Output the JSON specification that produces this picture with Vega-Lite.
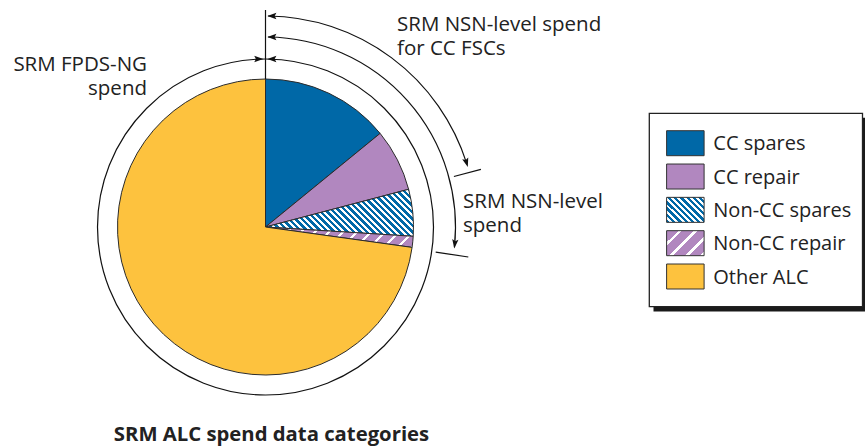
{
  "$schema": "https://vega.github.io/schema/vega-lite/v6.json",
  "width": 865,
  "height": 447,
  "padding": 0,
  "autosize": "none",
  "background": "white",
  "config": {"view": {"stroke": null}, "font": "Open Sans"},
  "datasets": {
    "spend": [
      {"cat": "CC spares", "value": 14.1, "ord": 1},
      {"cat": "CC repair", "value": 6.8, "ord": 2},
      {"cat": "Non-CC spares", "value": 5.1, "ord": 3},
      {"cat": "Non-CC repair", "value": 1.2, "ord": 4},
      {"cat": "Other ALC", "value": 72.8, "ord": 5}
    ],
    "spans": [
      {"span": "SRM FPDS-NG spend", "t1": 0, "t2": 100},
      {"span": "SRM NSN-level spend", "t1": 0.21, "t2": 26.7},
      {"span": "SRM NSN-level spend for CC FSCs", "t1": 0.19, "t2": 20.15}
    ],
    "rules": [
      {"x": 0, "y": 148, "x2": 0, "y2": 217},
      {"x": 188.4, "y": 50.5, "x2": 215.4, "y2": 57.7},
      {"x": 170.2, "y": -25.1, "x2": 202.8, "y2": -30.0}
    ],
    "arrows": [
      {"x": 1.8, "y": 211, "angle": 180},
      {"x": 1.8, "y": 190, "angle": 180},
      {"x": 1.8, "y": 168, "angle": 180},
      {"x": -2.2, "y": 168, "angle": 0},
      {"x": 202.3, "y": 59.9, "angle": 73.5},
      {"x": 188.8, "y": -21.5, "angle": 96.5}
    ],
    "leftLabels": [
      {"x": 131.5, "y": 196.5, "text": ["SRM NSN-level spend", "for CC FSCs"]},
      {"x": 197.5, "y": 19, "text": ["SRM NSN-level", "spend"]}
    ],
    "rightLabels": [
      {"x": -118.5, "y": 156, "text": ["SRM FPDS-NG", "spend"]}
    ],
    "titles": [
      {"x": 6, "y": -214, "text": "SRM ALC spend data categories"}
    ]
  },
  "resolve": {"scale": {"y": "independent"}},
  "layer": [
    {
      "data": {"values": [{}]},
      "mark": {"type": "rect", "color": "#1a1a1a"},
      "encoding": {
        "x": {"datum": 388, "type": "quantitative", "scale": {"domain": [-265.5, 599.5], "nice": false, "zero": false}, "axis": null},
        "x2": {"datum": 601.5},
        "y": {"datum": 109.2, "type": "quantitative", "scale": {"domain": [-220, 227], "nice": false, "zero": false}, "axis": null},
        "y2": {"datum": -84.5}
      }
    },
    {
      "data": {"values": [{}]},
      "mark": {"type": "rect", "fill": "white", "stroke": "#222", "strokeWidth": 1.3},
      "encoding": {
        "x": {"datum": 383.8, "type": "quantitative", "scale": {"domain": [-265.5, 599.5], "nice": false, "zero": false}, "axis": null},
        "x2": {"datum": 597},
        "y": {"datum": 113.7, "type": "quantitative", "scale": {"domain": [-220, 227], "nice": false, "zero": false}, "axis": null},
        "y2": {"datum": -79.7}
      }
    },
    {
      "data": {"name": "spans"},
      "transform": [{"filter": "datum.t2 == 100"}],
      "mark": {"type": "arc", "radius": 168, "radius2": 168, "fill": "white", "fillOpacity": 0, "stroke": "#111", "strokeWidth": 1.2},
      "encoding": {
        "x": {"datum": 0, "type": "quantitative", "scale": {"domain": [-265.5, 599.5], "nice": false, "zero": false}, "axis": null},
        "y": {"datum": 0, "type": "quantitative", "scale": {"domain": [-220, 227], "nice": false, "zero": false}, "axis": null},
        "theta": {"field": "t1", "type": "quantitative", "stack": null, "scale": {"domain": [0, 100]}},
        "theta2": {"field": "t2"}
      }
    },
    {
      "data": {"name": "spans"},
      "transform": [{"filter": "datum.t2 < 25"}],
      "mark": {"type": "arc", "radius": 211, "radius2": 211, "fill": "white", "fillOpacity": 0, "stroke": "#111", "strokeWidth": 1.2},
      "encoding": {
        "x": {"datum": 0, "type": "quantitative", "scale": {"domain": [-265.5, 599.5], "nice": false, "zero": false}, "axis": null},
        "y": {"datum": 0, "type": "quantitative", "scale": {"domain": [-220, 227], "nice": false, "zero": false}, "axis": null},
        "theta": {"field": "t1", "type": "quantitative", "stack": null, "scale": {"domain": [0, 100]}},
        "theta2": {"field": "t2"}
      }
    },
    {
      "data": {"name": "spans"},
      "transform": [{"filter": "datum.t2 > 25 && datum.t2 < 50"}],
      "mark": {"type": "arc", "radius": 190, "radius2": 190, "fill": "white", "fillOpacity": 0, "stroke": "#111", "strokeWidth": 1.2},
      "encoding": {
        "x": {"datum": 0, "type": "quantitative", "scale": {"domain": [-265.5, 599.5], "nice": false, "zero": false}, "axis": null},
        "y": {"datum": 0, "type": "quantitative", "scale": {"domain": [-220, 227], "nice": false, "zero": false}, "axis": null},
        "theta": {"field": "t1", "type": "quantitative", "stack": null, "scale": {"domain": [0, 100]}},
        "theta2": {"field": "t2"}
      }
    },
    {
      "data": {"name": "spend"},
      "mark": {"type": "arc", "radius": 148, "stroke": "#2b2b2b", "strokeWidth": 1},
      "encoding": {
        "x": {"datum": 0, "type": "quantitative", "scale": {"domain": [-265.5, 599.5], "nice": false, "zero": false}, "axis": null},
        "y": {"datum": 0, "type": "quantitative", "scale": {"domain": [-220, 227], "nice": false, "zero": false}, "axis": null},
        "theta": {"field": "value", "type": "quantitative", "stack": true, "scale": {"domain": [0, 100]}},
        "order": {"field": "ord", "type": "quantitative"},
        "fill": {
          "field": "cat",
          "type": "nominal",
          "scale": {
            "domain": ["CC spares", "CC repair", "Non-CC spares", "Non-CC repair", "Other ALC"],
            "range": ["#0068A7", "#B187BF", "#0068A7", "#B187BF", "#FDC23E"]
          },
          "legend": null,
          "condition": [
            {"test": "datum.cat === 'Non-CC spares'", "value": {"gradient": "linear", "x1": 0, "y1": 1, "x2": 1.197, "y2": 0.62, "stops": [
              {"offset": 0, "color": "#0068A7"}, {"offset": 0.0183, "color": "#0068A7"}, {"offset": 0.0183, "color": "#ffffff"}, {"offset": 0.0333, "color": "#ffffff"},
              {"offset": 0.0333, "color": "#0068A7"}, {"offset": 0.0517, "color": "#0068A7"}, {"offset": 0.0517, "color": "#ffffff"}, {"offset": 0.0667, "color": "#ffffff"},
              {"offset": 0.0667, "color": "#0068A7"}, {"offset": 0.085, "color": "#0068A7"}, {"offset": 0.085, "color": "#ffffff"}, {"offset": 0.1, "color": "#ffffff"},
              {"offset": 0.1, "color": "#0068A7"}, {"offset": 0.1183, "color": "#0068A7"}, {"offset": 0.1183, "color": "#ffffff"}, {"offset": 0.1333, "color": "#ffffff"},
              {"offset": 0.1333, "color": "#0068A7"}, {"offset": 0.1517, "color": "#0068A7"}, {"offset": 0.1517, "color": "#ffffff"}, {"offset": 0.1667, "color": "#ffffff"},
              {"offset": 0.1667, "color": "#0068A7"}, {"offset": 0.185, "color": "#0068A7"}, {"offset": 0.185, "color": "#ffffff"}, {"offset": 0.2, "color": "#ffffff"},
              {"offset": 0.2, "color": "#0068A7"}, {"offset": 0.2183, "color": "#0068A7"}, {"offset": 0.2183, "color": "#ffffff"}, {"offset": 0.2333, "color": "#ffffff"},
              {"offset": 0.2333, "color": "#0068A7"}, {"offset": 0.2517, "color": "#0068A7"}, {"offset": 0.2517, "color": "#ffffff"}, {"offset": 0.2667, "color": "#ffffff"},
              {"offset": 0.2667, "color": "#0068A7"}, {"offset": 0.285, "color": "#0068A7"}, {"offset": 0.285, "color": "#ffffff"}, {"offset": 0.3, "color": "#ffffff"},
              {"offset": 0.3, "color": "#0068A7"}, {"offset": 0.3183, "color": "#0068A7"}, {"offset": 0.3183, "color": "#ffffff"}, {"offset": 0.3333, "color": "#ffffff"},
              {"offset": 0.3333, "color": "#0068A7"}, {"offset": 0.3517, "color": "#0068A7"}, {"offset": 0.3517, "color": "#ffffff"}, {"offset": 0.3667, "color": "#ffffff"},
              {"offset": 0.3667, "color": "#0068A7"}, {"offset": 0.385, "color": "#0068A7"}, {"offset": 0.385, "color": "#ffffff"}, {"offset": 0.4, "color": "#ffffff"},
              {"offset": 0.4, "color": "#0068A7"}, {"offset": 0.4183, "color": "#0068A7"}, {"offset": 0.4183, "color": "#ffffff"}, {"offset": 0.4333, "color": "#ffffff"},
              {"offset": 0.4333, "color": "#0068A7"}, {"offset": 0.4517, "color": "#0068A7"}, {"offset": 0.4517, "color": "#ffffff"}, {"offset": 0.4667, "color": "#ffffff"},
              {"offset": 0.4667, "color": "#0068A7"}, {"offset": 0.485, "color": "#0068A7"}, {"offset": 0.485, "color": "#ffffff"}, {"offset": 0.5, "color": "#ffffff"},
              {"offset": 0.5, "color": "#0068A7"}, {"offset": 0.5183, "color": "#0068A7"}, {"offset": 0.5183, "color": "#ffffff"}, {"offset": 0.5333, "color": "#ffffff"},
              {"offset": 0.5333, "color": "#0068A7"}, {"offset": 0.5517, "color": "#0068A7"}, {"offset": 0.5517, "color": "#ffffff"}, {"offset": 0.5667, "color": "#ffffff"},
              {"offset": 0.5667, "color": "#0068A7"}, {"offset": 0.585, "color": "#0068A7"}, {"offset": 0.585, "color": "#ffffff"}, {"offset": 0.6, "color": "#ffffff"},
              {"offset": 0.6, "color": "#0068A7"}, {"offset": 0.6183, "color": "#0068A7"}, {"offset": 0.6183, "color": "#ffffff"}, {"offset": 0.6333, "color": "#ffffff"},
              {"offset": 0.6333, "color": "#0068A7"}, {"offset": 0.6517, "color": "#0068A7"}, {"offset": 0.6517, "color": "#ffffff"}, {"offset": 0.6667, "color": "#ffffff"},
              {"offset": 0.6667, "color": "#0068A7"}, {"offset": 0.685, "color": "#0068A7"}, {"offset": 0.685, "color": "#ffffff"}, {"offset": 0.7, "color": "#ffffff"},
              {"offset": 0.7, "color": "#0068A7"}, {"offset": 0.7183, "color": "#0068A7"}, {"offset": 0.7183, "color": "#ffffff"}, {"offset": 0.7333, "color": "#ffffff"},
              {"offset": 0.7333, "color": "#0068A7"}, {"offset": 0.7517, "color": "#0068A7"}, {"offset": 0.7517, "color": "#ffffff"}, {"offset": 0.7667, "color": "#ffffff"},
              {"offset": 0.7667, "color": "#0068A7"}, {"offset": 0.785, "color": "#0068A7"}, {"offset": 0.785, "color": "#ffffff"}, {"offset": 0.8, "color": "#ffffff"},
              {"offset": 0.8, "color": "#0068A7"}, {"offset": 0.8183, "color": "#0068A7"}, {"offset": 0.8183, "color": "#ffffff"}, {"offset": 0.8333, "color": "#ffffff"},
              {"offset": 0.8333, "color": "#0068A7"}, {"offset": 0.8517, "color": "#0068A7"}, {"offset": 0.8517, "color": "#ffffff"}, {"offset": 0.8667, "color": "#ffffff"},
              {"offset": 0.8667, "color": "#0068A7"}, {"offset": 0.885, "color": "#0068A7"}, {"offset": 0.885, "color": "#ffffff"}, {"offset": 0.9, "color": "#ffffff"},
              {"offset": 0.9, "color": "#0068A7"}, {"offset": 0.9183, "color": "#0068A7"}, {"offset": 0.9183, "color": "#ffffff"}, {"offset": 0.9333, "color": "#ffffff"},
              {"offset": 0.9333, "color": "#0068A7"}, {"offset": 0.9517, "color": "#0068A7"}, {"offset": 0.9517, "color": "#ffffff"}, {"offset": 0.9667, "color": "#ffffff"},
              {"offset": 0.9667, "color": "#0068A7"}, {"offset": 0.985, "color": "#0068A7"}, {"offset": 0.985, "color": "#ffffff"}, {"offset": 1, "color": "#ffffff"}
            ]}},
            {"test": "datum.cat === 'Non-CC repair'", "value": {"gradient": "linear", "x1": 0, "y1": 0, "x2": 1.116, "y2": 0.153, "stops": [
              {"offset": 0, "color": "#B187BF"}, {"offset": 0.0625, "color": "#B187BF"}, {"offset": 0.0625, "color": "#ffffff"}, {"offset": 0.0833, "color": "#ffffff"},
              {"offset": 0.0833, "color": "#B187BF"}, {"offset": 0.1458, "color": "#B187BF"}, {"offset": 0.1458, "color": "#ffffff"}, {"offset": 0.1667, "color": "#ffffff"},
              {"offset": 0.1667, "color": "#B187BF"}, {"offset": 0.2292, "color": "#B187BF"}, {"offset": 0.2292, "color": "#ffffff"}, {"offset": 0.25, "color": "#ffffff"},
              {"offset": 0.25, "color": "#B187BF"}, {"offset": 0.3125, "color": "#B187BF"}, {"offset": 0.3125, "color": "#ffffff"}, {"offset": 0.3333, "color": "#ffffff"},
              {"offset": 0.3333, "color": "#B187BF"}, {"offset": 0.3958, "color": "#B187BF"}, {"offset": 0.3958, "color": "#ffffff"}, {"offset": 0.4167, "color": "#ffffff"},
              {"offset": 0.4167, "color": "#B187BF"}, {"offset": 0.4792, "color": "#B187BF"}, {"offset": 0.4792, "color": "#ffffff"}, {"offset": 0.5, "color": "#ffffff"},
              {"offset": 0.5, "color": "#B187BF"}, {"offset": 0.5625, "color": "#B187BF"}, {"offset": 0.5625, "color": "#ffffff"}, {"offset": 0.5833, "color": "#ffffff"},
              {"offset": 0.5833, "color": "#B187BF"}, {"offset": 0.6458, "color": "#B187BF"}, {"offset": 0.6458, "color": "#ffffff"}, {"offset": 0.6667, "color": "#ffffff"},
              {"offset": 0.6667, "color": "#B187BF"}, {"offset": 0.7292, "color": "#B187BF"}, {"offset": 0.7292, "color": "#ffffff"}, {"offset": 0.75, "color": "#ffffff"},
              {"offset": 0.75, "color": "#B187BF"}, {"offset": 0.8125, "color": "#B187BF"}, {"offset": 0.8125, "color": "#ffffff"}, {"offset": 0.8333, "color": "#ffffff"},
              {"offset": 0.8333, "color": "#B187BF"}, {"offset": 0.8958, "color": "#B187BF"}, {"offset": 0.8958, "color": "#ffffff"}, {"offset": 0.9167, "color": "#ffffff"},
              {"offset": 0.9167, "color": "#B187BF"}, {"offset": 0.9792, "color": "#B187BF"}, {"offset": 0.9792, "color": "#ffffff"}, {"offset": 1, "color": "#ffffff"}
            ]}}
          ]
        }
      }
    },
    {
      "data": {"name": "spend"},
      "mark": {"type": "point", "shape": "M-1.5,-1H1.5V1H-1.5Z", "size": 625, "filled": true, "opacity": 1, "fillOpacity": 1, "stroke": "#333", "strokeWidth": 1},
      "encoding": {
        "x": {"datum": 419.85, "type": "quantitative", "scale": {"domain": [-265.5, 599.5], "nice": false, "zero": false}, "axis": null},
        "y": {"field": "ord", "type": "quantitative", "axis": null, "scale": {"domain": [-3.296, 10.115], "reverse": true, "nice": false, "zero": false}},
        "fill": {
          "field": "cat",
          "type": "nominal",
          "legend": null,
          "condition": [
            {"test": "datum.cat === 'Non-CC spares'", "value": {"gradient": "linear", "x1": 0, "y1": 1, "x2": 1.154, "y2": 0.23, "stops": [
              {"offset": 0, "color": "#0068A7"}, {"offset": 0.055, "color": "#0068A7"}, {"offset": 0.055, "color": "#ffffff"}, {"offset": 0.1, "color": "#ffffff"},
              {"offset": 0.1, "color": "#0068A7"}, {"offset": 0.155, "color": "#0068A7"}, {"offset": 0.155, "color": "#ffffff"}, {"offset": 0.2, "color": "#ffffff"},
              {"offset": 0.2, "color": "#0068A7"}, {"offset": 0.255, "color": "#0068A7"}, {"offset": 0.255, "color": "#ffffff"}, {"offset": 0.3, "color": "#ffffff"},
              {"offset": 0.3, "color": "#0068A7"}, {"offset": 0.355, "color": "#0068A7"}, {"offset": 0.355, "color": "#ffffff"}, {"offset": 0.4, "color": "#ffffff"},
              {"offset": 0.4, "color": "#0068A7"}, {"offset": 0.455, "color": "#0068A7"}, {"offset": 0.455, "color": "#ffffff"}, {"offset": 0.5, "color": "#ffffff"},
              {"offset": 0.5, "color": "#0068A7"}, {"offset": 0.555, "color": "#0068A7"}, {"offset": 0.555, "color": "#ffffff"}, {"offset": 0.6, "color": "#ffffff"},
              {"offset": 0.6, "color": "#0068A7"}, {"offset": 0.655, "color": "#0068A7"}, {"offset": 0.655, "color": "#ffffff"}, {"offset": 0.7, "color": "#ffffff"},
              {"offset": 0.7, "color": "#0068A7"}, {"offset": 0.755, "color": "#0068A7"}, {"offset": 0.755, "color": "#ffffff"}, {"offset": 0.8, "color": "#ffffff"},
              {"offset": 0.8, "color": "#0068A7"}, {"offset": 0.855, "color": "#0068A7"}, {"offset": 0.855, "color": "#ffffff"}, {"offset": 0.9, "color": "#ffffff"},
              {"offset": 0.9, "color": "#0068A7"}, {"offset": 0.955, "color": "#0068A7"}, {"offset": 0.955, "color": "#ffffff"}, {"offset": 1, "color": "#ffffff"}
            ]}},
            {"test": "datum.cat === 'Non-CC repair'", "value": {"gradient": "linear", "x1": 0, "y1": 0, "x2": 1.154, "y2": 0.77, "stops": [
              {"offset": 0, "color": "#B187BF"}, {"offset": 0.1875, "color": "#B187BF"}, {"offset": 0.1875, "color": "#ffffff"}, {"offset": 0.25, "color": "#ffffff"},
              {"offset": 0.25, "color": "#B187BF"}, {"offset": 0.4375, "color": "#B187BF"}, {"offset": 0.4375, "color": "#ffffff"}, {"offset": 0.5, "color": "#ffffff"},
              {"offset": 0.5, "color": "#B187BF"}, {"offset": 0.6875, "color": "#B187BF"}, {"offset": 0.6875, "color": "#ffffff"}, {"offset": 0.75, "color": "#ffffff"},
              {"offset": 0.75, "color": "#B187BF"}, {"offset": 0.9375, "color": "#B187BF"}, {"offset": 0.9375, "color": "#ffffff"}, {"offset": 1, "color": "#ffffff"}
            ]}}
          ]
        }
      }
    },
    {
      "data": {"name": "spend"},
      "mark": {"type": "text", "align": "left", "baseline": "middle", "font": "Open Sans", "fontSize": 20, "color": "#222", "dy": 1},
      "encoding": {
        "x": {"datum": 447.8, "type": "quantitative", "scale": {"domain": [-265.5, 599.5], "nice": false, "zero": false}, "axis": null},
        "y": {"field": "ord", "type": "quantitative", "axis": null, "scale": {"domain": [-3.296, 10.115], "reverse": true, "nice": false, "zero": false}},
        "text": {"field": "cat"}
      }
    },
    {
      "data": {"name": "rules"},
      "mark": {"type": "rule", "color": "#111", "strokeWidth": 1.2},
      "encoding": {
        "x": {"field": "x", "type": "quantitative", "scale": {"domain": [-265.5, 599.5], "nice": false, "zero": false}, "axis": null},
        "y": {"field": "y", "type": "quantitative", "scale": {"domain": [-220, 227], "nice": false, "zero": false}, "axis": null},
        "x2": {"field": "x2"},
        "y2": {"field": "y2"}
      }
    },
    {
      "data": {"name": "arrows"},
      "mark": {"type": "point", "shape": "M0,0L-2.6,-0.9L-2.1,0L-2.6,0.9Z", "size": 49, "filled": true, "color": "#111", "opacity": 1, "strokeWidth": 0},
      "encoding": {
        "x": {"field": "x", "type": "quantitative", "scale": {"domain": [-265.5, 599.5], "nice": false, "zero": false}, "axis": null},
        "y": {"field": "y", "type": "quantitative", "scale": {"domain": [-220, 227], "nice": false, "zero": false}, "axis": null},
        "angle": {"field": "angle", "type": "quantitative", "scale": null}
      }
    },
    {
      "data": {"name": "leftLabels"},
      "mark": {"type": "text", "align": "left", "baseline": "alphabetic", "font": "Open Sans", "fontSize": 20.5, "lineHeight": 24, "color": "#222"},
      "encoding": {
        "x": {"field": "x", "type": "quantitative", "scale": {"domain": [-265.5, 599.5], "nice": false, "zero": false}, "axis": null},
        "y": {"field": "y", "type": "quantitative", "scale": {"domain": [-220, 227], "nice": false, "zero": false}, "axis": null},
        "text": {"field": "text"}
      }
    },
    {
      "data": {"name": "rightLabels"},
      "mark": {"type": "text", "align": "right", "baseline": "alphabetic", "font": "Open Sans", "fontSize": 20.5, "lineHeight": 24, "color": "#222"},
      "encoding": {
        "x": {"field": "x", "type": "quantitative", "scale": {"domain": [-265.5, 599.5], "nice": false, "zero": false}, "axis": null},
        "y": {"field": "y", "type": "quantitative", "scale": {"domain": [-220, 227], "nice": false, "zero": false}, "axis": null},
        "text": {"field": "text"}
      }
    },
    {
      "data": {"name": "titles"},
      "mark": {"type": "text", "align": "center", "baseline": "alphabetic", "font": "Open Sans", "fontSize": 20.3, "fontWeight": "bold", "color": "#222"},
      "encoding": {
        "x": {"field": "x", "type": "quantitative", "scale": {"domain": [-265.5, 599.5], "nice": false, "zero": false}, "axis": null},
        "y": {"field": "y", "type": "quantitative", "scale": {"domain": [-220, 227], "nice": false, "zero": false}, "axis": null},
        "text": {"field": "text"}
      }
    }
  ]
}
